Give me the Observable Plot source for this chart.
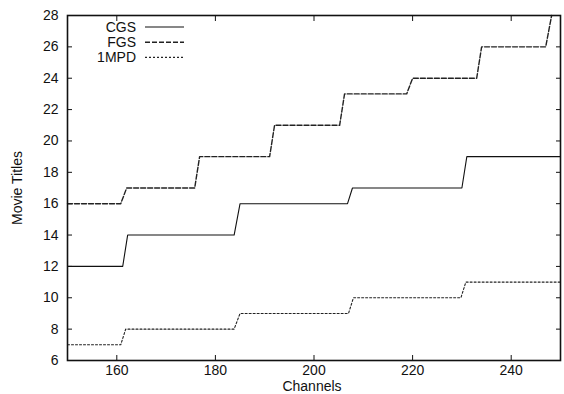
<!DOCTYPE html>
<html><head><meta charset="utf-8">
<script src="https://cdn.jsdelivr.net/npm/d3@7"></script>
<script src="https://cdn.jsdelivr.net/npm/@observablehq/plot@0.6"></script>
<style>
body{margin:0;background:#fff;}
#chart svg{font-family:"Liberation Sans",Arial,sans-serif;}
</style></head>
<body><div id="chart"></div>
<script>
// Step series (channel, titles); risers are slanted
const cgsX = [150,161.2,162.2,183.8,185,206.8,207.8,230,231,250];
const cgsY = [12,12,14,14,16,16,17,17,19,19];
const fgsX = [150,160.8,162,175.8,176.8,191,192,205.2,206.2,218.8,220,233,234,247,248.2];
const fgsY = [16,16,17,17,19,19,21,21,23,23,24,24,26,26,28];
const mpdX = [150,160.8,161.8,183.8,185,207,208,229.8,230.8,250];
const mpdY = [7,7,8,8,9,9,10,10,11,11];
const xTicks = [160,180,200,220,240];
const yTicks = [6,8,10,12,14,16,18,20,22,24,26,28];
const seriesNames = ["CGS","FGS","1MPD"];
const xLabel = "Channels";
const yLabel = "Movie Titles";

const toRows = (xs, ys, name) => xs.map((x, i) => ({x, y: ys[i], name}));
const cgs = toRows(cgsX, cgsY, "CGS");
const fgs = toRows(fgsX, fgsY, "FGS");
const mpd = toRows(mpdX, mpdY, "1MPD");

const styles = {
  "CGS": {stroke:"#111", strokeWidth:1.1, strokeDasharray:null},
  "FGS": {stroke:"#222", strokeWidth:1.4, strokeDasharray:"5,2"},
  "1MPD": {stroke:"#222", strokeWidth:1.1, strokeDasharray:"2,2"}
};

const plot = Plot.plot({
  width: 564, height: 394,
  marginLeft: 67, marginRight: 4, marginTop: 15, marginBottom: 34,
  style: {fontSize: "14px", fontFamily: "'Liberation Sans', Arial, sans-serif", color:"#111"},
  x: {domain: [150, 250]},
  y: {domain: [6, 28]},
  marks: [
    Plot.axisX(xTicks, {anchor: "bottom", tickSize: -5, tickPadding: 10, fontSize: 14, label: null}),
    Plot.axisX(xTicks, {anchor: "top", tickSize: -5, tickFormat: () => "", label: null}),
    Plot.axisY(yTicks, {anchor: "left", tickSize: -5, tickPadding: 14, fontSize: 14, label: yLabel, labelAnchor: "center", labelOffset: 55, labelArrow: "none"}),
    Plot.axisY(yTicks, {anchor: "right", tickSize: -5, tickFormat: () => "", label: null}),
    Plot.line(mpd, {x:"x", y:"y", ...styles["1MPD"]}),
    Plot.line(cgs, {x:"x", y:"y", ...styles["CGS"]}),
    Plot.line(fgs, {x:"x", y:"y", ...styles["FGS"]}),
    Plot.frame({stroke:"#111", strokeWidth: 1.6})
  ]
});
document.getElementById("chart").appendChild(plot);

const svg = d3.select(plot);
// x-axis title, centred under the plot frame
svg.append("text").attr("x", 312).attr("y", 391).attr("text-anchor", "middle")
  .attr("font-size", 14).attr("fill", "#111").text(xLabel);

// In-plot legend (top-left), gnuplot style
const lg = svg.append("g").attr("font-size", 14).attr("fill", "#111");
seriesNames.forEach((n, i) => {
  const yy = 27 + i * 15.2;
  lg.append("text").attr("x", 136).attr("y", yy).attr("dy", "0.35em").attr("text-anchor", "end").text(n);
  const s = styles[n];
  const l = lg.append("line").attr("x1", 145).attr("x2", 184).attr("y1", yy).attr("y2", yy)
    .attr("stroke", s.stroke).attr("stroke-width", s.strokeWidth);
  if (s.strokeDasharray) l.attr("stroke-dasharray", s.strokeDasharray);
});
</script></body></html>
